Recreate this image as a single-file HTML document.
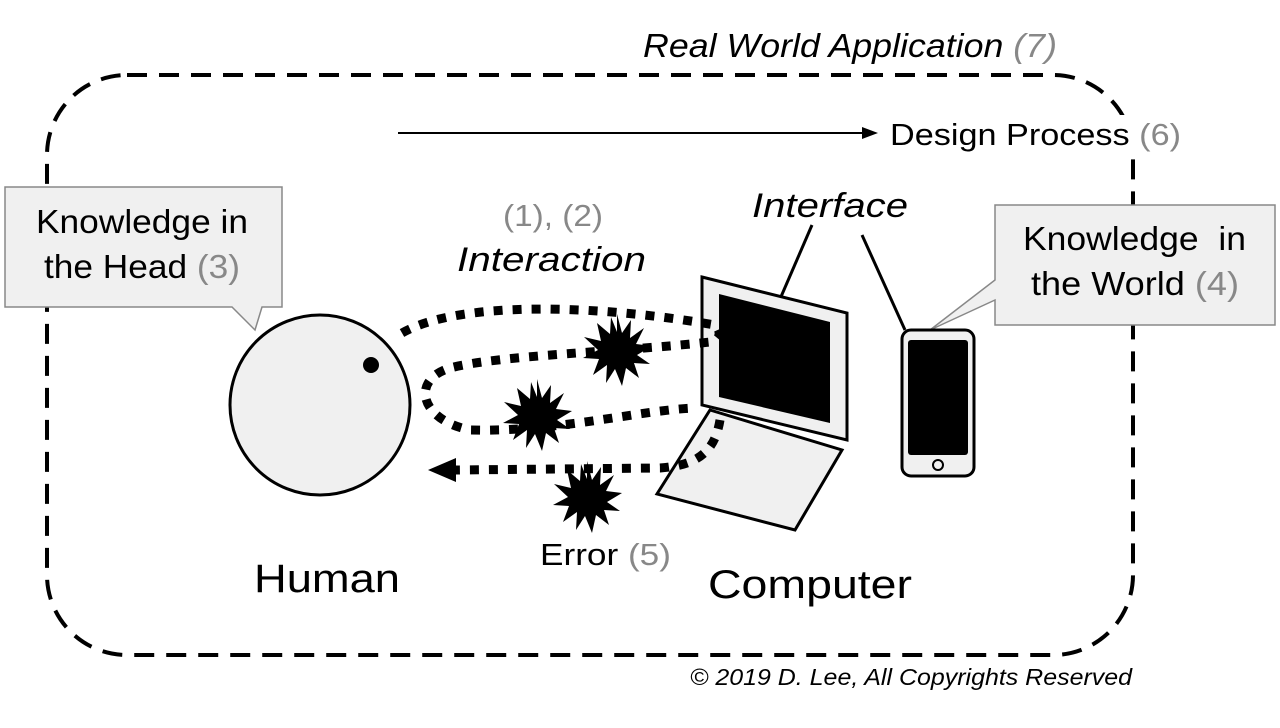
<!DOCTYPE html>
<html><head><style>body{margin:0;background:#fff}svg{display:block}text{font-family:"Liberation Sans",sans-serif}</style></head><body>
<svg width="1280" height="728" viewBox="0 0 1280 728">
<defs>
<polygon id="s" points="0,-36 5,-17 14,-30 13,-12 27,-22 19,-6 35,-4 20,5 33,14 17,13 22,28 9,18 5,36 -2,19 -11,33 -10,15 -24,25 -18,9 -34,8 -19,0 -33,-13 -16,-9 -20,-27 -7,-16 -6,-33 0,-18" fill="#000"/>
</defs>
<rect x="47" y="75" width="1086" height="580" rx="80" fill="none" stroke="#000" stroke-width="4" stroke-dasharray="20 12"/>
<text x="643" y="57" font-size="33" font-style="italic" fill="#000" textLength="414" lengthAdjust="spacingAndGlyphs">Real World Application <tspan fill="#888">(7)</tspan></text>
<line x1="398" y1="133" x2="866" y2="133" stroke="#000" stroke-width="2"/>
<polygon points="878,133 862,127 862,139" fill="#000"/>
<rect x="1120" y="115" width="66" height="38" fill="#fff"/>
<text x="890" y="145" font-size="31" textLength="291" lengthAdjust="spacingAndGlyphs">Design Process <tspan fill="#888">(6)</tspan></text>
<path d="M5,187 H282 V307 H262 L255,330 L232,307 H5 Z" fill="#f0f0f0" stroke="#888" stroke-width="1.5"/>
<text x="36" y="233" font-size="33" textLength="212" lengthAdjust="spacingAndGlyphs">Knowledge in</text>
<text x="44" y="278" font-size="33" textLength="196" lengthAdjust="spacingAndGlyphs">the Head <tspan fill="#888">(3)</tspan></text>
<path d="M995,205 H1275 V325 H995 V300 L930,330 L995,280 Z" fill="#f0f0f0" stroke="#888" stroke-width="1.5"/>
<text x="1023" y="250" font-size="33" textLength="223" lengthAdjust="spacingAndGlyphs">Knowledge&#160; in</text>
<text x="1031" y="295" font-size="33" textLength="208" lengthAdjust="spacingAndGlyphs">the World <tspan fill="#888">(4)</tspan></text>
<circle cx="320" cy="405" r="90" fill="#f0f0f0" stroke="#000" stroke-width="3"/>
<circle cx="371" cy="365" r="8" fill="#000"/>
<text x="254" y="592" font-size="40" textLength="146" lengthAdjust="spacingAndGlyphs">Human</text>
<text x="503" y="226" font-size="31" fill="#888" textLength="100" lengthAdjust="spacingAndGlyphs">(1), (2)</text>
<text x="457" y="271" font-size="34" font-style="italic" textLength="189" lengthAdjust="spacingAndGlyphs">Interaction</text>
<text x="752" y="217" font-size="34" font-style="italic" textLength="156" lengthAdjust="spacingAndGlyphs">Interface</text>
<line x1="812" y1="225" x2="777" y2="306" stroke="#000" stroke-width="3"/>
<line x1="862" y1="235" x2="905" y2="330" stroke="#000" stroke-width="3"/>
<polygon points="710,410 842,450 795,530 657,494" fill="#f0f0f0" stroke="#000" stroke-width="3"/>
<polygon points="702,277 847,313 847,440 702,405" fill="#f0f0f0" stroke="#000" stroke-width="3"/>
<polygon points="719,294 830,322 830,423 719,397" fill="#000"/>
<text x="708" y="598" font-size="40" textLength="204" lengthAdjust="spacingAndGlyphs">Computer</text>
<rect x="902" y="330" width="72" height="146" rx="9" fill="#f0f0f0" stroke="#000" stroke-width="3"/>
<rect x="908" y="340" width="60" height="115" rx="3" fill="#000"/>
<circle cx="938" cy="465" r="5" fill="none" stroke="#000" stroke-width="2"/>
<g fill="none" stroke="#000" stroke-width="9" stroke-dasharray="9 10">
<path d="M402,333 C460,300 600,305 715,325 C722,332 720,340 710,342 C620,352 500,355 450,368 C410,380 420,420 470,430 C560,432 640,410 695,408"/>
<path d="M720,420 C715,450 700,465 660,468 L455,470"/>
</g>
<polygon points="428,470 456,458 456,482" fill="#000"/>
<use href="#s" transform="translate(617,350)"/>
<use href="#s" transform="translate(537,415)"/>
<use href="#s" transform="translate(587,497)"/>
<text x="540" y="565" font-size="31" textLength="131" lengthAdjust="spacingAndGlyphs">Error <tspan fill="#888">(5)</tspan></text>
<text x="690" y="685" font-size="23" font-style="italic" textLength="442" lengthAdjust="spacingAndGlyphs">© 2019 D. Lee, All Copyrights Reserved</text>
</svg>
</body></html>
